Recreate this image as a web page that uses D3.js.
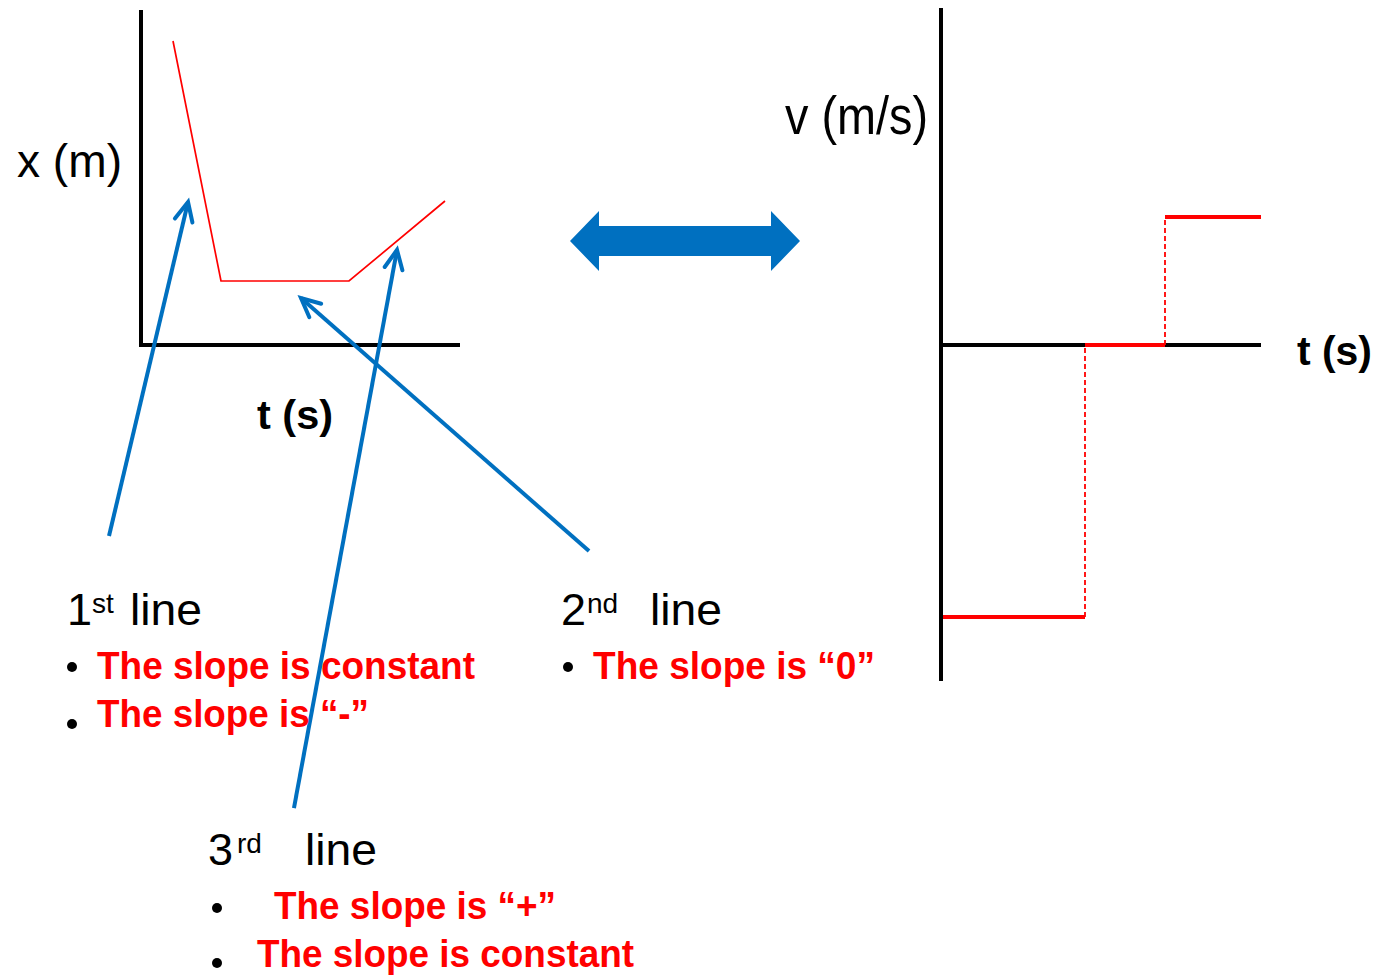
<!DOCTYPE html>
<html>
<head>
<meta charset="utf-8">
<script src="https://cdn.jsdelivr.net/npm/d3@7"></script>
<style>
  body { margin: 0; background: #fff; }
  text { font-family: "Liberation Sans", Arial, sans-serif; }
</style>
</head>
<body>
<svg id="chart" width="1379" height="976"></svg>
<script>
// position-time graph (left)
var posTimes = [1, 2.5, 6.5, 9.5];
var posValues = [9.5, 2, 2, 4.5];

// velocity-time graph (right), one constant value per segment
var velStarts = [0, 4.5, 7];
var velEnds = [4.5, 7, 10];
var velValues = [-8.5, 0, 4];

// annotation arrows, in left-chart units: tail -> tip
var arrowTails = [[-1.0, -5.97], [14.0, -6.44], [4.78, -14.47]];
var arrowTips = [[1.47, 4.47], [5.0, 1.47], [8.0, 2.97]];

// texts
var lineNums = ["1", "2", "3"];
var lineSups = ["st", "nd", "rd"];
var bullets1 = ["The slope is constant", "The slope is \u201c-\u201d"];
var bullets2 = ["The slope is \u201c0\u201d"];
var bullets3 = ["The slope is \u201c+\u201d", "The slope is constant"];

var RED = "#ff0000";
var BLUE = "#0070c0";

var svg = d3.select("#chart");

// ----- left chart -----
var x1 = d3.scaleLinear().domain([0, 10]).range([141, 461]);
var y1 = d3.scaleLinear().domain([0, 10]).range([345, 25]);

svg.append("line").attr("x1", x1(0)).attr("x2", x1(0))
    .attr("y1", 10).attr("y2", 347)
    .attr("stroke", "#000").attr("stroke-width", 4);
svg.append("line").attr("x1", 139).attr("x2", 460)
    .attr("y1", y1(0)).attr("y2", y1(0))
    .attr("stroke", "#000").attr("stroke-width", 4);

svg.append("path")
    .datum(d3.zip(posTimes, posValues))
    .attr("d", d3.line().x(function (d) { return x1(d[0]); }).y(function (d) { return y1(d[1]); }))
    .attr("fill", "none")
    .attr("stroke", RED)
    .attr("stroke-width", 1.7);

svg.append("text").attr("x", 17).attr("y", 177)
    .attr("font-size", 47).attr("textLength", 105).attr("lengthAdjust", "spacingAndGlyphs")
    .text("x (m)");
svg.append("text").attr("x", 257).attr("y", 429)
    .attr("font-size", 41).attr("font-weight", "bold")
    .attr("textLength", 76).attr("lengthAdjust", "spacingAndGlyphs")
    .text("t (s)");

// ----- right chart -----
var x2 = d3.scaleLinear().domain([0, 10]).range([941, 1261]);
var y2 = d3.scaleLinear().domain([0, 10]).range([345, 25]);

svg.append("line").attr("x1", x2(0)).attr("x2", x2(0))
    .attr("y1", 8).attr("y2", 681)
    .attr("stroke", "#000").attr("stroke-width", 4);
svg.append("line").attr("x1", x2(0)).attr("x2", x2(10))
    .attr("y1", y2(0)).attr("y2", y2(0))
    .attr("stroke", "#000").attr("stroke-width", 4);

// dashed jumps between segments
for (var i = 1; i < velValues.length; i++) {
    svg.append("line")
        .attr("x1", x2(velStarts[i])).attr("x2", x2(velStarts[i]))
        .attr("y1", y2(velValues[i - 1])).attr("y2", y2(velValues[i]))
        .attr("stroke", RED).attr("stroke-width", 1.8)
        .attr("stroke-dasharray", "5,3");
}

svg.selectAll(".vseg")
    .data(d3.range(velValues.length))
    .enter().append("line")
    .attr("class", "vseg")
    .attr("x1", function (i) { return x2(velStarts[i]) + (i === 0 ? 2 : 0); })
    .attr("x2", function (i) { return x2(velEnds[i]); })
    .attr("y1", function (i) { return y2(velValues[i]); })
    .attr("y2", function (i) { return y2(velValues[i]); })
    .attr("stroke", RED)
    .attr("stroke-width", 4);

svg.append("text").attr("x", 785).attr("y", 134)
    .attr("font-size", 54).attr("textLength", 143).attr("lengthAdjust", "spacingAndGlyphs")
    .text("v (m/s)");
svg.append("text").attr("x", 1297).attr("y", 365)
    .attr("font-size", 41).attr("font-weight", "bold")
    .attr("textLength", 75).attr("lengthAdjust", "spacingAndGlyphs")
    .text("t (s)");

// ----- double arrow between the graphs -----
svg.append("path")
    .attr("d", "M570,241 L599,211 L599,226 L771,226 L771,211 L800,241 L771,271 L771,256 L599,256 L599,271 Z")
    .attr("fill", BLUE);

// ----- annotation arrows -----
function arrowHead(tail, tip) {
    var dx = tip[0] - tail[0], dy = tip[1] - tail[1];
    var len = Math.sqrt(dx * dx + dy * dy);
    var ux = dx / len, uy = dy / len;
    var s = 19, w = 9;
    var bx = tip[0] - ux * s, by = tip[1] - uy * s;
    return "M" + (bx - uy * w) + "," + (by + ux * w) +
        " L" + tip[0] + "," + tip[1] +
        " L" + (bx + uy * w) + "," + (by - ux * w);
}

arrowTails.forEach(function (t, i) {
    var tail = [x1(t[0]), y1(t[1])];
    var tip = [x1(arrowTips[i][0]), y1(arrowTips[i][1])];
    svg.append("line")
        .attr("x1", tail[0]).attr("y1", tail[1])
        .attr("x2", tip[0]).attr("y2", tip[1])
        .attr("stroke", BLUE).attr("stroke-width", 4);
    svg.append("path")
        .attr("d", arrowHead(tail, tip))
        .attr("fill", "none")
        .attr("stroke", BLUE).attr("stroke-width", 4)
        .attr("stroke-linecap", "round").attr("stroke-linejoin", "miter");
});

// ----- labels under the graphs -----
function heading(num, sup, xNum, xSup, xLine, yBase) {
    svg.append("text").attr("x", xNum).attr("y", yBase).attr("font-size", 45).text(num);
    svg.append("text").attr("x", xSup).attr("y", yBase - 12).attr("font-size", 28).text(sup);
    svg.append("text").attr("x", xLine).attr("y", yBase).attr("font-size", 45)
        .attr("textLength", 72).attr("lengthAdjust", "spacingAndGlyphs").text("line");
}

function bullet(cx, cy, txt, tx, ty, tw) {
    svg.append("circle").attr("cx", cx).attr("cy", cy).attr("r", 5).attr("fill", "#000");
    svg.append("text").attr("x", tx).attr("y", ty)
        .attr("font-size", 38).attr("font-weight", "bold").attr("fill", RED)
        .attr("textLength", tw).attr("lengthAdjust", "spacingAndGlyphs")
        .text(txt);
}

heading(lineNums[0], lineSups[0], 67, 92, 130, 625);
bullet(72, 667, bullets1[0], 97, 679, 378);
bullet(72, 724, bullets1[1], 97, 727, 272);

heading(lineNums[1], lineSups[1], 561, 587, 650, 625);
bullet(568, 667, bullets2[0], 593, 679, 282);

heading(lineNums[2], lineSups[2], 208, 237, 305, 865);
bullet(217, 908, bullets3[0], 274, 919, 282);
bullet(217, 963, bullets3[1], 257, 967, 377);
</script>
</body>
</html>
